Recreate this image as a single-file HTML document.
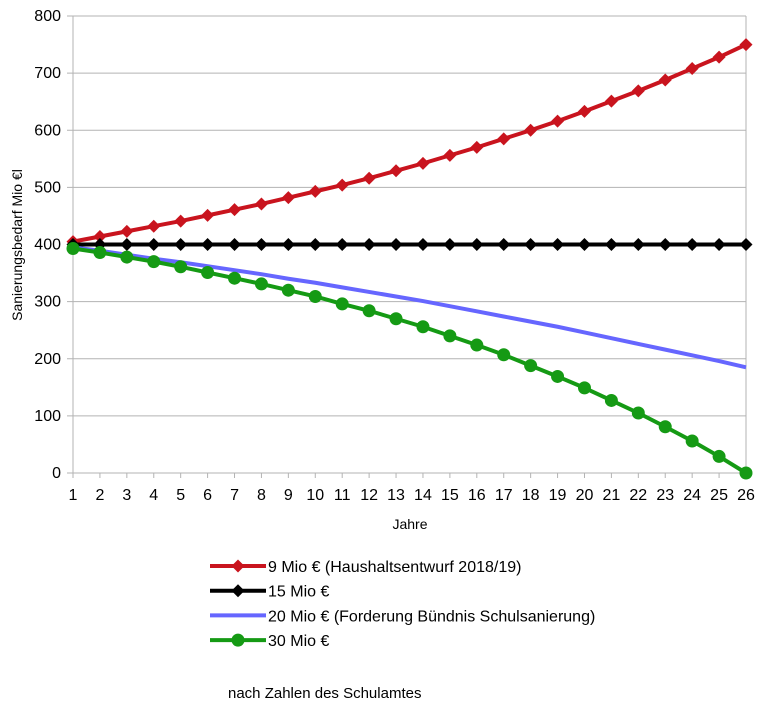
<!DOCTYPE html>
<html><head><meta charset="utf-8"><style>
body{margin:0;background:#fff;}
svg text{font-family:"Liberation Sans",sans-serif;fill:#000;}
</style></head><body>
<svg width="766" height="709" id="c">
<g id="grid"></g>
<g id="axes"></g>
<g id="series"></g>
<text x="22" y="245" font-size="14" transform="rotate(-90 22 245)" text-anchor="middle">Sanierungsbedarf Mio €l</text>
<text x="410" y="529" font-size="14" text-anchor="middle">Jahre</text>
<g id="legend"></g>
<text x="228" y="698" font-size="15">nach Zahlen des Schulamtes</text>
</svg>
<script>
const years=[1,2,3,4,5,6,7,8,9,10,11,12,13,14,15,16,17,18,19,20,21,22,23,24,25,26];
const yTicks=[0,100,200,300,400,500,600,700,800];
const seriesNames=["9 Mio € (Haushaltsentwurf 2018/19)","15 Mio €","20 Mio € (Forderung Bündnis Schulsanierung)","30 Mio €"];
const red=[405,414,423,432,441,451,461,471,482,493,504,516,529,542,556,570,585,600,616,633,651,669,688,708,728,750];
const black=[400,400,400,400,400,400,400,400,400,400,400,400,400,400,400,400,400,400,400,400,400,400,400,400,400,400];
const blue=[395,389,382,375,369,362,355,348,340,333,325,317,309,301,292,283,274,265,256,246,236,226,216,206,196,185];
const green=[393,386,378,370,361,351,341,331,320,309,296,284,270,256,240,224,207,188,169,149,127,105,81,56,29,0];
const NS="http://www.w3.org/2000/svg";
const X0=73,X1=746,Y0=473,Y1=16;
const xs=v=>X0+(v-years[0])*(X1-X0)/(years[years.length-1]-years[0]);
const ys=v=>Y0-v*(Y0-Y1)/800;
function mk(p,t,a){const e=document.createElementNS(NS,t);for(const k in a)e.setAttribute(k,a[k]);p.appendChild(e);return e;}
const G=document.getElementById('grid'),A=document.getElementById('axes'),S=document.getElementById('series'),L=document.getElementById('legend');
yTicks.forEach(t=>{const y=ys(t);
const l=mk(G,'line',{x1:67,x2:X1,y1:y,y2:y,stroke:'#b3b3b3','stroke-width':1});


const tx=mk(A,'text',{x:61,y:y+5,'font-size':16,'text-anchor':'end'});tx.textContent=t;

});
mk(A,'line',{x1:X0,x2:X0,y1:Y1,y2:Y0+5,stroke:'#b3b3b3'});
mk(A,'line',{x1:X1,x2:X1,y1:Y1,y2:Y0+5,stroke:'#b3b3b3'});
years.forEach(v=>{const x=xs(v);mk(A,'line',{x1:x,x2:x,y1:Y0,y2:Y0+5,stroke:'#b3b3b3'});
const tx=mk(A,'text',{x:x,y:Y0+27,'font-size':16,'text-anchor':'middle'});tx.textContent=v;

});
function marker(p,type,x,y,c){
 if(type==='d')return mk(p,'polygon',{points:`${x},${y-6.5} ${x+6.5},${y} ${x},${y+6.5} ${x-6.5},${y}`,fill:c});
 if(type==='o')return mk(p,'circle',{cx:x,cy:y,r:6.5,fill:c});
 return null;}
const defs=[[red,'#c9141e','d','series-9-mio'],[black,'#000','d','series-15-mio'],[blue,'#6666ff','','series-20-mio'],[green,'#159a14','o','series-30-mio']];
defs.forEach(([d,c,m,n],i)=>{
 const g=mk(S,'g',{});
 mk(g,'polyline',{points:d.map((v,j)=>xs(years[j])+','+ys(v)).join(' '),fill:'none',stroke:c,'stroke-width':4,'stroke-linejoin':'round'});
 if(m)d.forEach((v,j)=>{const e=marker(g,m,xs(years[j]),ys(v),c);
  
  });
 const ly=566+i*24.7;
 const lg=mk(L,'g',{});
 mk(lg,'line',{x1:210,x2:266,y1:ly,y2:ly,stroke:c,'stroke-width':4});
 if(m)marker(lg,m,238,ly,c);
 const t=mk(lg,'text',{x:268,y:ly+6,'font-size':16});t.textContent=seriesNames[i];
});
</script>
</body></html>
